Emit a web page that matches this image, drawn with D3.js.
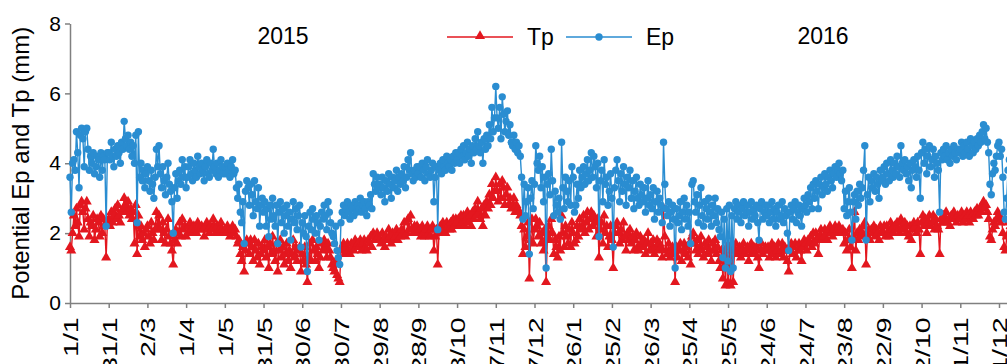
<!DOCTYPE html>
<html>
<head>
<meta charset="utf-8">
<script src="https://cdn.jsdelivr.net/npm/d3@7"></script>
<style>
body{margin:0;background:#fff;overflow:hidden;}
svg text{font-family:'Liberation Sans',Arial,sans-serif;fill:#000;}
.axis path,.axis line{stroke:#808080;stroke-width:1.5;}
</style>
</head>
<body>
<div class="chart-container"></div>
<script>
// x tick labels, one every 30 days from 1/1/2015
const xTickLabels = ['1/1','31/1','2/3','1/4','1/5','31/5','30/6','30/7','29/8','28/9','28/10','27/11','27/12',
  '26/1','25/2','26/3','25/4','25/5','24/6','24/7','23/8','22/9','22/10','21/11','21/12'];
const yTicks = [0,2,4,6,8];
const yearLabels = ['2015','2016'];
const seriesNames = ['Tp','Ep'];

// daily Ep (mm), 1/1/2015 - 31/12/2016
const ep = [
3.6,2.6,4.0,4.1,3.8,4.9,4.3,3.3,4.8,5.0,4.7,3.9,4.9,5.0,4.4,3.8,4.2,4.0,4.3,3.7,3.9,4.2,4.1,3.6,4.3,3.8,4.2,4.1,2.2,4.3,
4.3,4.1,4.6,4.2,3.9,4.4,4.2,4.5,4.3,4.0,4.6,4.4,5.2,4.7,4.5,4.8,4.4,4.6,4.2,4.5,4.0,4.8,2.3,4.9,3.6,4.0,3.5,3.8,3.3,3.7,
3.9,3.5,3.2,3.8,3.4,3.0,3.6,4.4,3.9,4.5,3.7,3.3,3.9,3.5,3.1,3.6,4.0,3.4,3.2,2.9,2.0,3.3,3.7,3.0,3.5,3.8,3.4,4.1,3.6,3.9,
3.3,3.6,3.9,4.1,3.7,3.5,4.0,3.8,3.6,4.2,3.9,3.7,4.0,3.8,3.5,3.9,4.1,3.7,3.6,4.0,3.8,4.4,3.9,3.7,4.0,3.6,3.8,4.1,3.9,3.7,
3.9,3.7,4.0,3.8,3.6,3.9,4.1,3.7,3.8,3.3,3.0,3.4,2.6,2.3,2.9,1.7,3.2,3.5,3.3,2.8,3.4,3.1,2.5,3.5,2.9,2.7,3.3,2.2,2.8,3.0,
2.6,2.9,2.2,2.7,1.9,2.8,2.4,3.0,2.5,2.2,2.8,1.7,2.6,2.9,2.3,2.7,2.0,2.5,2.8,2.2,2.6,1.8,2.4,2.9,2.3,2.7,2.1,2.5,2.8,1.6,
2.3,2.0,2.5,1.9,0.9,2.2,2.6,2.1,2.7,2.4,2.0,2.5,2.3,1.8,2.2,2.6,2.4,2.8,2.5,2.1,2.9,2.6,2.3,2.0,1.9,1.7,2.2,1.5,1.3,1.1,
2.3,2.6,2.8,2.5,2.7,2.9,2.6,2.4,2.8,2.7,2.5,2.9,2.6,2.8,2.7,3.0,2.6,2.8,2.9,2.7,2.5,2.9,2.8,3.1,2.7,3.7,3.4,3.2,3.6,3.3,
3.4,3.1,3.6,3.3,2.9,3.5,3.2,3.7,3.4,3.0,3.6,3.3,3.5,3.8,3.2,3.6,3.4,3.7,3.5,3.9,3.3,3.6,4.1,3.8,4.3,3.7,3.5,3.8,3.6,3.9,
3.7,3.9,3.6,4.0,3.8,3.5,3.9,4.1,3.7,3.6,3.8,4.0,2.9,3.6,3.9,2.1,3.8,4.0,3.7,4.1,3.9,3.8,4.2,4.0,3.9,4.1,3.8,4.2,4.0,4.3,
4.1,4.3,4.0,4.4,4.2,4.5,4.1,4.3,4.6,4.2,4.4,4.0,4.5,4.3,4.7,4.4,4.9,4.5,4.3,4.6,4.0,4.7,4.4,4.8,4.5,5.1,4.7,5.6,4.9,5.3,
6.2,5.3,5.0,5.6,4.7,5.9,5.4,4.9,5.2,5.5,4.8,5.1,4.6,4.5,4.8,4.4,4.6,4.3,4.5,4.2,3.6,2.4,3.4,2.5,2.9,3.3,1.4,3.0,3.5,2.7,
3.4,4.5,4.0,3.8,4.2,3.3,3.9,2.9,3.6,1.0,3.4,3.7,3.1,4.4,3.5,2.5,3.2,2.8,2.6,3.0,2.4,4.6,3.3,2.7,3.6,3.2,2.9,3.5,2.8,3.9,
3.6,2.6,2.8,3.4,3.0,3.8,3.3,3.6,3.9,3.4,3.7,4.1,3.5,3.8,4.3,3.6,4.2,3.9,3.3,4.0,1.9,3.5,3.8,2.9,4.1,3.4,3.6,2.8,3.2,3.7,
3.0,1.6,3.3,3.8,4.1,3.5,2.9,3.7,3.2,3.9,3.4,2.8,3.6,3.3,3.8,3.0,3.5,2.7,3.2,3.6,3.0,2.8,3.4,3.1,2.9,3.3,2.6,3.0,3.5,2.8,
3.1,2.7,3.3,2.4,2.9,3.2,2.6,3.0,2.8,2.3,4.6,3.4,2.7,2.5,2.9,2.2,2.6,2.8,2.4,1.0,2.7,2.3,2.5,2.9,2.1,2.6,3.0,2.4,2.8,2.2,
2.6,1.7,3.4,3.5,2.9,2.6,3.1,2.3,2.8,3.3,2.5,2.2,2.9,2.7,2.4,3.0,2.6,2.2,2.8,2.5,3.0,2.3,2.7,2.1,1.9,2.6,1.3,2.4,1.0,2.7,
1.2,2.8,0.9,2.5,1.0,2.7,2.9,2.4,2.6,2.8,2.3,2.7,2.9,2.5,2.6,2.8,2.2,2.6,2.9,2.4,2.7,2.5,2.8,2.3,1.8,2.7,2.9,2.4,2.6,2.8,
2.5,2.8,2.3,2.6,2.9,2.4,2.7,2.2,2.6,2.8,2.4,2.5,2.9,2.3,2.7,2.5,2.0,1.5,2.6,2.8,2.4,2.7,2.9,2.3,2.6,2.8,2.5,2.2,2.7,3.0,
2.8,2.6,3.1,2.9,3.3,2.7,3.4,3.0,3.5,3.2,2.7,3.4,3.6,3.1,3.3,3.7,3.4,3.2,3.6,3.8,3.5,3.3,3.7,3.9,3.6,3.8,4.0,3.7,3.5,3.8,
2.7,3.2,2.5,2.9,3.3,2.6,1.8,2.9,3.1,2.4,3.2,2.8,3.4,3.0,3.3,3.8,4.5,1.8,3.1,3.6,2.9,3.5,3.3,3.7,3.2,3.6,3.4,3.0,3.8,3.5,
3.6,3.9,3.4,4.0,3.7,3.5,4.1,3.8,3.6,4.0,3.7,4.2,3.9,3.6,4.5,4.0,3.8,4.1,3.7,3.9,3.5,4.0,3.3,3.8,4.1,3.9,3.6,4.2,3.8,3.0,
4.3,4.6,4.0,4.4,3.7,4.2,4.5,3.9,4.1,4.4,3.6,4.2,4.0,3.8,2.6,4.3,4.1,4.4,4.2,4.5,4.1,4.3,4.0,4.4,4.2,4.5,4.3,4.1,4.4,4.3,
4.4,4.6,4.2,4.5,4.3,4.6,4.4,4.2,4.7,4.5,4.3,4.6,4.4,4.7,4.5,4.8,4.6,4.9,5.1,4.7,5.0,4.6,4.3,3.4,3.1,3.7,4.0,3.8,4.2,4.5,
4.6,4.2,4.4,3.6,2.6,2.4,3.0,3.8,4.1,3.9,4.2
];

// daily Tp (mm), same days
const tp = [
1.6,1.5,2.0,2.5,2.2,2.7,2.3,1.9,2.8,2.9,2.6,2.1,2.7,2.9,2.4,1.9,2.3,2.2,2.5,1.8,2.1,2.4,2.3,1.9,2.5,2.0,2.4,2.2,1.3,2.3,
2.4,2.2,2.6,2.3,2.5,2.7,2.4,2.8,2.5,2.3,2.6,2.7,3.0,2.8,2.6,2.9,2.5,2.7,2.4,2.6,1.7,2.8,1.4,2.5,1.9,2.2,1.8,2.0,1.6,2.1,
2.2,1.9,1.7,2.3,2.0,1.8,2.1,2.6,2.2,2.5,2.1,1.8,2.3,2.0,1.7,2.1,2.4,1.9,1.7,1.5,1.1,1.8,2.1,1.7,2.0,2.3,1.9,2.4,2.1,2.2,
1.9,2.0,2.2,2.3,2.1,2.0,2.2,2.1,2.0,2.3,2.2,2.1,2.2,2.1,1.9,2.2,2.3,2.1,2.0,2.2,2.1,2.4,2.2,2.0,2.2,2.0,2.1,2.3,2.1,2.0,
2.1,2.0,2.2,2.1,1.9,2.1,2.2,2.0,2.1,1.9,1.7,1.8,1.4,1.2,1.6,0.9,1.5,1.8,1.7,1.4,1.8,1.6,1.2,1.8,1.5,1.3,1.7,1.1,1.4,1.6,
1.5,1.8,1.3,1.6,1.0,1.7,1.4,1.9,1.5,1.2,1.7,0.9,1.5,1.8,1.3,1.6,1.1,1.4,1.7,1.2,1.5,1.0,1.4,1.8,1.3,1.6,1.2,1.5,1.6,0.9,
1.4,1.2,1.6,1.1,0.6,1.3,1.7,1.2,1.8,1.5,1.2,1.6,1.4,1.0,1.3,1.7,1.5,1.8,1.6,1.3,1.7,1.5,1.3,1.1,1.0,0.9,1.2,0.8,0.7,0.6,
1.5,1.6,1.7,1.4,1.6,1.7,1.5,1.4,1.7,1.6,1.5,1.8,1.6,1.7,1.6,1.8,1.5,1.7,1.8,1.6,1.5,1.8,1.7,1.9,1.6,2.0,1.9,1.8,2.0,1.9,
1.8,1.7,2.0,1.8,1.6,1.9,1.8,2.1,1.9,1.7,2.0,1.8,1.9,2.1,1.8,2.0,1.9,2.1,2.0,2.3,1.9,2.0,2.4,2.1,2.5,2.1,2.0,2.2,2.0,2.2,
2.0,2.1,1.9,2.2,2.0,1.9,2.1,2.2,2.0,1.9,2.1,2.2,1.5,1.9,2.1,1.1,2.0,2.2,2.0,2.3,2.1,2.0,2.3,2.2,2.1,2.3,2.1,2.4,2.2,2.4,
2.3,2.4,2.2,2.5,2.3,2.5,2.2,2.4,2.6,2.3,2.5,2.2,2.6,2.4,2.7,2.5,2.9,2.6,2.4,2.7,2.2,2.8,2.5,2.9,2.7,3.1,2.8,3.4,3.0,3.2,
3.6,3.2,2.9,3.4,3.0,3.5,3.3,2.8,3.1,3.3,2.8,3.0,2.7,2.8,3.0,2.6,2.8,2.7,2.6,2.5,2.2,1.4,2.1,1.6,1.9,2.3,0.7,1.8,2.4,1.7,
2.1,2.4,2.2,1.9,2.3,1.7,2.0,1.5,2.1,0.6,1.9,2.2,1.8,2.4,2.0,1.4,1.8,1.6,1.3,1.9,1.5,2.5,2.0,1.6,2.2,1.9,1.7,2.1,1.6,2.3,
2.0,1.7,1.8,2.2,1.9,2.4,2.1,2.2,2.5,2.0,2.3,2.6,2.1,2.4,2.6,2.2,2.5,2.3,1.9,2.4,1.3,2.1,2.3,1.7,2.5,2.0,2.2,1.6,1.9,2.2,
1.8,1.0,2.0,2.2,2.3,2.0,1.7,2.1,1.8,2.3,1.9,1.5,2.0,1.8,2.1,1.7,1.9,1.5,1.8,2.0,1.6,1.5,1.9,1.7,1.6,1.8,1.4,1.7,2.0,1.5,
1.7,1.5,1.8,1.4,1.6,1.8,1.5,1.7,1.6,1.3,2.7,1.9,1.5,1.4,1.7,1.3,1.5,1.6,1.4,0.6,1.6,1.3,1.5,1.7,1.2,1.5,1.7,1.4,1.6,1.3,
1.7,1.1,1.9,2.0,1.7,1.5,1.8,1.4,1.6,1.9,1.5,1.3,1.7,1.6,1.4,1.8,1.5,1.2,1.7,1.5,1.8,1.4,1.6,1.2,1.0,1.5,0.7,1.4,0.5,1.6,
0.6,1.6,0.5,1.5,0.6,1.5,1.7,1.4,1.5,1.6,1.3,1.5,1.7,1.4,1.5,1.6,1.2,1.5,1.7,1.4,1.6,1.4,1.6,1.3,1.0,1.5,1.7,1.4,1.5,1.6,
1.5,1.6,1.3,1.5,1.7,1.4,1.6,1.3,1.5,1.7,1.4,1.5,1.7,1.3,1.6,1.5,1.2,0.9,1.5,1.7,1.4,1.6,1.7,1.3,1.5,1.7,1.5,1.2,1.6,1.8,
1.7,1.5,1.8,1.7,1.9,1.6,2.0,1.7,2.0,1.8,1.4,1.9,2.1,1.8,1.9,2.1,2.0,1.8,2.1,2.2,2.0,1.9,2.1,2.2,2.0,2.1,2.2,2.1,2.0,2.1,
1.7,2.0,1.5,1.8,2.1,1.6,1.0,1.9,2.6,1.5,2.0,1.8,2.1,1.9,2.0,2.2,2.3,1.1,1.9,2.1,1.8,2.1,2.0,2.2,1.9,2.1,2.0,1.8,2.2,2.0,
2.0,2.2,1.9,2.2,2.0,1.9,2.3,2.1,2.0,2.2,2.1,2.3,2.1,2.0,2.4,2.2,2.1,2.3,2.0,2.2,1.9,2.2,1.8,2.1,2.3,2.2,2.0,2.3,2.1,1.4,
2.3,2.5,2.2,2.4,2.0,2.3,2.5,2.2,2.3,2.5,2.1,2.4,2.2,2.1,1.4,2.4,2.3,2.5,2.3,2.6,2.3,2.4,2.2,2.5,2.4,2.6,2.4,2.3,2.5,2.4,
2.4,2.6,2.3,2.5,2.4,2.6,2.5,2.3,2.6,2.5,2.4,2.6,2.5,2.7,2.5,2.7,2.6,2.8,2.9,2.7,2.8,2.6,2.4,1.9,1.8,2.1,2.3,2.2,2.4,2.6,
2.5,2.3,2.4,2.0,1.6,1.5,1.9,2.3,2.4,2.2,2.5
];

const colors = {Tp:'#e3171f', Ep:'#2a8dd1'};

function setupCanvas(){
    const svg_width = 1007, svg_height = 364;
    const svg = d3.select('.chart-container').append('svg')
        .attr('width', svg_width).attr('height', svg_height);

    // one day = 1.29 px, 1/1/2015 at x=70
    const xScale = d3.scaleLinear().domain([0, 730]).range([70, 70 + 730*929/720]);
    const yScale = d3.scaleLinear().domain([0, 8]).range([303, 23.5]);

    //axes
    const xAxis = d3.axisBottom(xScale)
        .tickValues(xTickLabels.map((d,i)=>i*30))
        .tickFormat((d,i)=>xTickLabels[i])
        .tickSizeInner(5).tickSizeOuter(0);
    const xAxisDraw = svg.append('g').attr('class','x axis')
        .attr('transform',`translate(0,${yScale(0)})`).call(xAxis);
    // labels in the picture are drawn long along the reading direction
    xAxisDraw.selectAll('text')
        .attr('transform','rotate(-90) scale(1.36,1)')
        .attr('x',-10.5).attr('y',0).attr('dy','0.36em')
        .style('text-anchor','end').style('font-size','21px');

    const yAxis = d3.axisLeft(yScale).tickValues(yTicks).tickSizeInner(5).tickSizeOuter(0);
    const yAxisDraw = svg.append('g').attr('class','y axis')
        .attr('transform',`translate(${xScale(0)},0)`).call(yAxis);
    yAxisDraw.selectAll('text').attr('x',-9).style('font-size','21px');

    svg.append('text')
        .attr('transform',`translate(29,${(yScale(0)+yScale(8))/2}) rotate(-90)`)
        .style('text-anchor','middle').style('font-size','24px')
        .text('Potential Ep and Tp (mm)');

    //lines and markers
    const line = d3.line().x((d,i)=>xScale(i)).y(d=>yScale(d));
    const tri = d3.symbol().type(d3.symbolTriangle).size(44);

    svg.append('path').datum(tp).attr('d', line)
        .attr('fill','none').attr('stroke',colors.Tp).attr('stroke-width',1.4);
    svg.append('g').selectAll('path').data(tp).join('path')
        .attr('d', tri)
        .attr('transform',(d,i)=>`translate(${xScale(i)},${yScale(d)})`)
        .attr('fill',colors.Tp);

    svg.append('path').datum(ep).attr('d', line)
        .attr('fill','none').attr('stroke',colors.Ep).attr('stroke-width',1.4);
    svg.append('g').selectAll('circle').data(ep).join('circle')
        .attr('cx',(d,i)=>xScale(i)).attr('cy',d=>yScale(d))
        .attr('r',3.7).attr('fill',colors.Ep);

    //year labels
    const yearX = [283, 823];
    svg.selectAll('.year').data(yearLabels).join('text').attr('class','year')
        .attr('x',(d,i)=>yearX[i]).attr('y',44)
        .style('text-anchor','middle').style('font-size','23px')
        .text(d=>d);

    //legend
    const legend = svg.append('g').attr('class','legend');
    const legendX = [447, 566];
    seriesNames.forEach((name,i)=>{
        const g = legend.append('g').attr('transform',`translate(${legendX[i]},37)`);
        g.append('line').attr('x1',0).attr('x2',66).attr('y1',0).attr('y2',0)
            .attr('stroke',colors[name]).attr('stroke-width',1.5);
        if(name==='Tp'){
            g.append('path').attr('d',tri).attr('transform','translate(33,-1)').attr('fill',colors[name]);
        } else {
            g.append('circle').attr('cx',33).attr('cy',0).attr('r',3.7).attr('fill',colors[name]);
        }
        g.append('text').attr('x',80).attr('y',8).style('font-size','23px').text(name);
    });
}

setupCanvas();
</script>
</body>
</html>
